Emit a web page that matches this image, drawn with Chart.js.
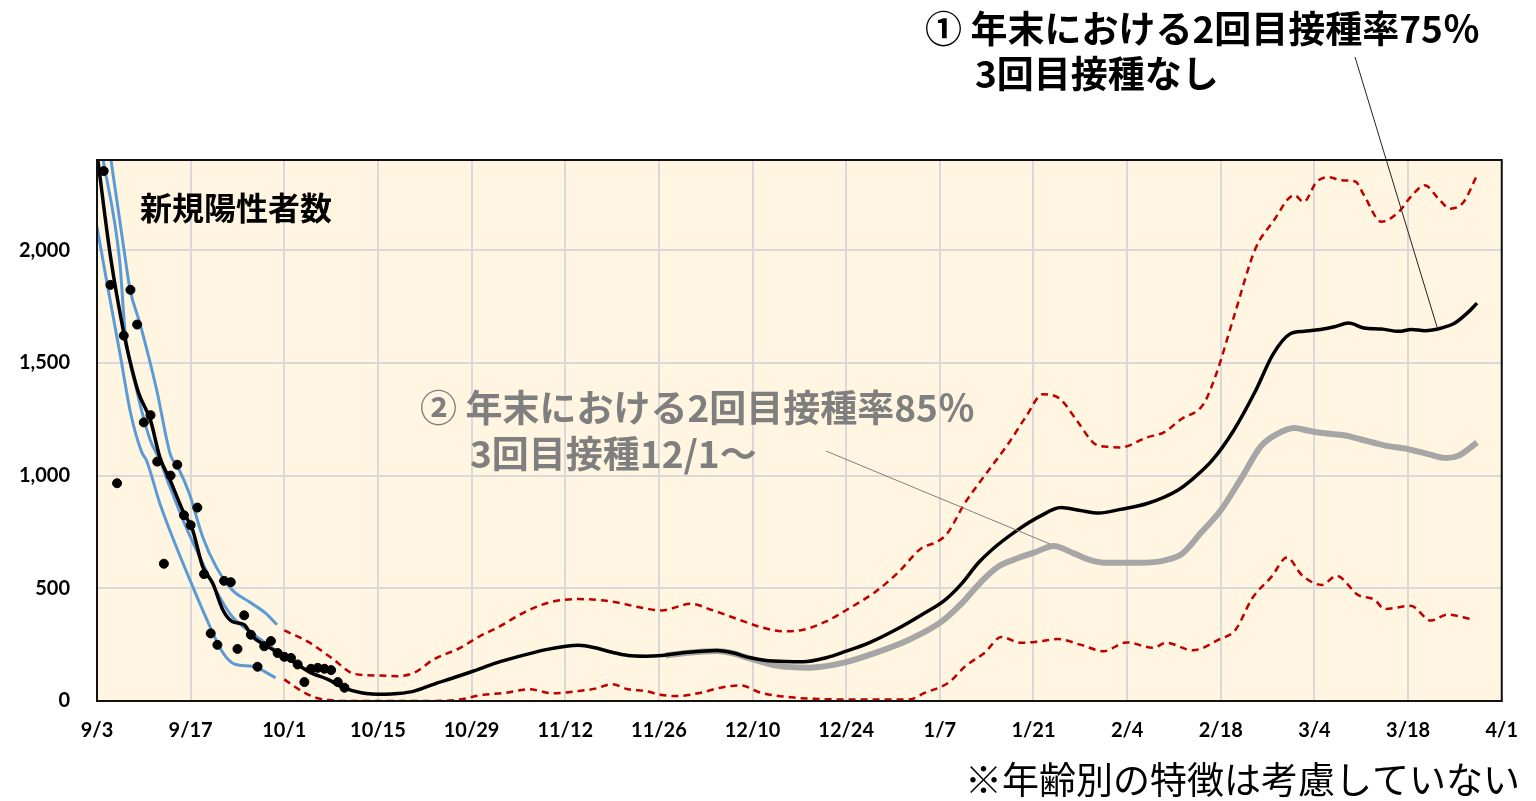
<!DOCTYPE html>
<html>
<head>
<meta charset="utf-8">
<script src="https://cdn.jsdelivr.net/npm/chart.js@4.4.1/dist/chart.umd.min.js"></script>
<style>
  body { margin: 0; background: #fff; }
  #wrap { width: 1536px; height: 801px; }
</style>
</head>
<body>
<div id="wrap"><canvas id="newCasesChart" width="1536" height="801"></canvas></div>
<script>
// x axis: days since 9/3, one tick every 14 days
const tickLabels = ["9/3", "9/17", "10/1", "10/15", "10/29", "11/12", "11/26", "12/10",
  "12/24", "1/7", "1/21", "2/4", "2/18", "3/4", "3/18", "4/1"];
const yTicks = [0, 500, 1000, 1500, 2000];

// observed daily new cases (dots)
const dotDays = [1, 2, 3, 4, 5, 6, 7, 8, 9, 10, 11, 12, 13, 14, 15, 16, 17, 18, 19, 20,
  21, 22, 23, 24, 25, 26, 27, 28, 29, 30, 31, 32, 33, 34, 35, 36, 37];
const dotVals = [2351, 1846, 966, 1621, 1824, 1670, 1236, 1268, 1062, 609, 1000, 1048, 824, 780, 858, 563, 300, 249, 533, 527,
  231, 380, 294, 152, 243, 266, 213, 196, 191, 162, 84, 143, 147, 143, 137, 84, 59];

// (1) 75% second dose, no third dose
const blackDays = [0, 2, 4, 5, 6.2, 8, 9.4, 11, 12.8, 14.3, 15.8, 17.3, 18.8, 20.2, 22, 23.2, 25, 26.7, 28.1, 29.6,
  32, 34.5, 37, 39.5, 43, 45, 47.4, 50.3, 53.3, 56.2, 59.7, 63.2, 67.1, 70.1, 72, 74.5, 77, 79.4, 82, 84.4,
  88.3, 92.7, 94.7, 97.7, 101.1, 105.6, 109, 112, 115.4, 119.4, 123.3, 126.8, 129.3, 131.7, 133.7, 137.6, 141, 144.1, 147, 149.8,
  153, 157, 161.5, 164, 166.7, 169.9, 173.2, 175.8, 178.4, 180.5, 182.9, 185, 187.1, 189.4, 192, 194.6, 196.5, 198.5, 201, 203,
  205, 206.3];
const blackVals = [2430, 1975, 1633, 1500, 1368, 1245, 1081, 975, 846, 758, 596, 522, 405, 353, 338, 287, 250, 221, 199, 169,
  125, 96, 57, 37, 30, 33, 44, 74, 103, 132, 169, 199, 228, 243, 247, 236, 216, 202, 199, 202,
  216, 224, 216, 192, 177, 174, 192, 221, 258, 316, 383, 449, 522, 611, 669, 758, 820, 858, 845, 834,
  850, 876, 934, 990, 1067, 1199, 1376, 1538, 1629, 1640, 1648, 1660, 1677, 1655, 1650, 1640, 1648, 1643, 1655, 1677,
  1725, 1765];

// (2) 85% second dose, third dose from 12/1
const greyDays = [85, 88.3, 92.7, 94.7, 97.7, 101.6, 106.6, 111.5, 116.4, 121.4, 126.3, 129.3, 132.2, 134.7, 137.6, 140.1,
  143, 146, 148.5, 151, 156, 159.8, 162.3, 165, 168, 171, 174, 176.4, 179, 181, 182.9, 186.8, 189, 192.6, 195.9, 199,
  201.7, 203.6, 206.3];
const greyVals = [202, 214, 222, 214, 188, 157, 148, 169, 214, 272, 353, 434, 530, 596, 633, 658,
  688, 655, 625, 613, 613, 625, 655, 745, 846, 985, 1130, 1184, 1211, 1200, 1190, 1177, 1160, 1133, 1118, 1095,
  1078, 1089, 1147];

// prediction interval (red dashed)
const redUpDays = [28, 31.6, 35.2, 38.5, 42.4, 44.9, 47.4, 50.3, 54.3, 57.2, 60.2, 64.1, 68.1, 72, 77, 80.9, 84.4, 88.8,
  91.8, 96.7, 99.2, 102.6, 105.6, 109, 112.5, 116.4, 119.9, 123.2, 125.5, 127.1, 129.7, 132.9, 136.2, 138.8, 141.4, 144,
  146.5, 149.2, 151, 153, 157, 159.5, 162.1, 165.4, 167.3, 169.9, 173.2, 175.8, 179, 180.4, 182.3, 184.2, 186, 188.1,
  189.4, 192, 194.6, 196.5, 198.5, 200.5, 202.3, 204.3, 206.3];
const redUpVals = [313, 262, 188, 120, 113, 110, 125, 184, 236, 287, 331, 397, 441, 452, 441, 417, 402, 431,
  405, 353, 328, 309, 316, 353, 412, 485, 574, 677, 705, 743, 876, 1008, 1140, 1258, 1361, 1339,
  1243, 1140, 1128, 1125, 1170, 1192, 1251, 1317, 1449, 1699, 2008, 2126, 2244, 2214, 2302, 2324, 2310, 2305,
  2244, 2126, 2170, 2240, 2288, 2230, 2184, 2214, 2332];
const redLoDays = [28, 30.6, 33, 35, 37, 50, 54.3, 57.2, 61.2, 64.6, 68.1, 72, 74.5, 77, 79.4, 82, 84.4, 86.8,
  90.3, 93.2, 96.2, 99.2, 104.2, 111.5, 121.4, 123.8, 127.3, 129.8, 132.7, 135.2, 138.1, 141, 143.6, 147, 150.5, 153.9,
  157.9, 159.8, 163.8, 167.7, 170.2, 172.7, 175.6, 177.9, 180.1, 183.1, 185.3, 188.5, 191, 192.5, 196.4, 199.4, 201.9,
  205.4];
const redLoVals = [96, 44, 12, 3, 0, 0, 7, 25, 37, 52, 34, 44, 55, 74, 52, 44, 27, 22,
  37, 59, 69, 37, 15, 7, 7, 37, 81, 154, 214, 284, 258, 265, 275, 250, 221, 260,
  236, 258, 225, 272, 316, 456, 552, 637, 559, 515, 555, 471, 449, 408, 422, 357, 383,
  364];

// fitted band for the observed period (blue)
const blueUpDays = [1.8, 4, 4.95, 6.4, 8.9, 11, 12.1, 13.8, 15.8, 17.8, 20.2, 22.7, 25.2, 26.9];
const blueUpVals = [2460, 2010, 1824, 1677, 1383, 1090, 1037, 920, 728, 596, 493, 441, 390, 338];
const blueMidDays = [0.8, 3.4, 4.2, 5.9, 7.9, 9.4, 10.9, 13.3, 15.8, 18.3, 20.2, 23.7, 26.7];
const blueMidVals = [2420, 1950, 1640, 1383, 1162, 1067, 949, 772, 611, 463, 375, 290, 225];
const blueLoDays = [0, 1.5, 3.5, 5, 6.7, 7.4, 9.4, 11.85, 14.3, 16, 18.8, 20.7, 23.2, 26.7];
const blueLoVals = [2104, 1853, 1530, 1280, 1103, 1067, 876, 684, 508, 390, 215, 162, 154, 103];

const pts = (days, vals) => days.map((d, i) => ({ x: d, y: vals[i] }));

const jp = '"Noto Sans CJK JP", sans-serif';

function lineSet(data, color, width, order, dash) {
  return {
    type: "line",
    data: data,
    borderColor: color,
    borderWidth: width,
    borderDash: dash || [],
    pointRadius: 0,
    fill: false,
    cubicInterpolationMode: "monotone",
    order: order,
  };
}

const areaAndNotes = {
  id: "areaAndNotes",
  beforeDraw(chart) {
    const { ctx, chartArea: a } = chart;
    ctx.save();
    ctx.fillStyle = "#FFF5E0";
    ctx.fillRect(a.left, a.top, a.right - a.left, a.bottom - a.top);
    ctx.restore();
  },
  afterDraw(chart) {
    const { ctx, chartArea: a } = chart;
    ctx.save();
    // plot frame
    ctx.strokeStyle = "#111";
    ctx.lineWidth = 2;
    ctx.strokeRect(a.left, a.top, a.right - a.left, a.bottom - a.top);

    // leader lines
    ctx.lineWidth = 1;
    ctx.strokeStyle = "#222";
    ctx.beginPath();
    ctx.moveTo(1355, 57);
    ctx.lineTo(1437, 327);
    ctx.stroke();
    ctx.strokeStyle = "#808080";
    ctx.beginPath();
    ctx.moveTo(826, 451);
    ctx.lineTo(1050, 544);
    ctx.stroke();

    ctx.textBaseline = "middle";
    ctx.textAlign = "left";
    ctx.fillStyle = "#000";
    ctx.font = "bold 32px " + jp;
    ctx.fillText("新規陽性者数", 140, 208);

    ctx.font = "bold 37px " + jp;
    ctx.fillText("① 年末における2回目接種率75％", 925, 29);
    ctx.fillText("3回目接種なし", 975, 74);

    ctx.fillStyle = "#7F7F7F";
    ctx.fillText("② 年末における2回目接種率85％", 420, 408);
    ctx.fillText("3回目接種12/1～", 470, 454);

    ctx.fillStyle = "#000";
    ctx.font = "37px " + jp;
    ctx.fillText("※年齢別の特徴は考慮していない", 965, 780);
    ctx.restore();
  },
};

const ctxCases = document.getElementById("newCasesChart").getContext("2d");
const newCasesChart = new Chart(ctxCases, {
  type: "scatter",
  data: {
    datasets: [
      {
        label: "observed",
        data: pts(dotDays, dotVals),
        backgroundColor: "#000",
        borderColor: "#000",
        pointRadius: 4.5,
        showLine: false,
        order: 0,
      },
      lineSet(pts(blackDays, blackVals), "#000", 3.5, 1),
      lineSet(pts(blueUpDays, blueUpVals), "#5B9BD5", 3, 2),
      lineSet(pts(blueMidDays, blueMidVals), "#5B9BD5", 3, 2),
      lineSet(pts(blueLoDays, blueLoVals), "#5B9BD5", 3, 2),
      lineSet(pts(greyDays, greyVals), "#A6A6A6", 6, 3),
      lineSet(pts(redUpDays, redUpVals), "#C00000", 2.5, 4, [7, 5]),
      lineSet(pts(redLoDays, redLoVals), "#C00000", 2.5, 4, [7, 5]),
    ],
  },
  plugins: [areaAndNotes],
  options: {
    responsive: false,
    animation: false,
    devicePixelRatio: 1,
    layout: { padding: { left: 0, top: 160, right: 20, bottom: 0 } },
    plugins: {
      legend: { display: false },
      tooltip: { enabled: false },
    },
    scales: {
      x: {
        type: "linear",
        min: 0,
        max: 210,
        afterFit: (s) => { s.height = 100; },
        grid: { color: "#D9D9D9", lineWidth: 2, drawTicks: false },
        border: { display: false },
        ticks: {
          stepSize: 14,
          padding: 18,
          color: "#000",
          font: { family: "Lato", size: 20, weight: "bold" },
          callback: (v) => tickLabels[Math.round(v / 14)],
        },
      },
      y: {
        min: 0,
        max: 2400,
        afterFit: (s) => { s.width = 97; },
        afterBuildTicks: (s) => { s.ticks = yTicks.map((v) => ({ value: v })); },
        grid: { color: "#D9D9D9", lineWidth: 2, drawTicks: false },
        border: { display: false },
        ticks: {
          padding: 27,
          color: "#000",
          font: { family: "Lato", size: 20, weight: "bold" },
          callback: (v) => v.toLocaleString("en-US"),
        },
      },
    },
  },
});
</script>
</body>
</html>
